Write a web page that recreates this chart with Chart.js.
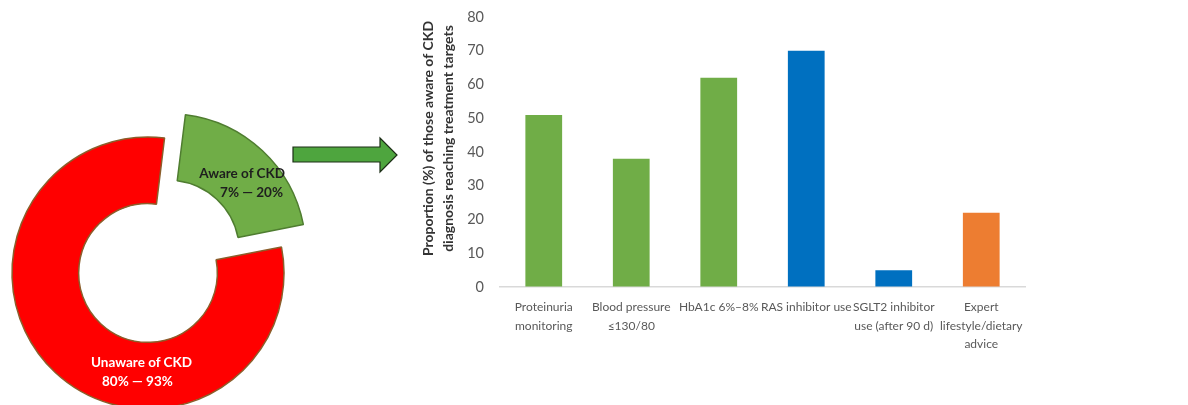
<!DOCTYPE html>
<html>
<head>
<meta charset="utf-8">
<script src="https://cdn.jsdelivr.net/npm/chart.js@4.4.1/dist/chart.umd.min.js"></script>
<style>
  html, body { margin: 0; padding: 0; background: #fff; }
  body { width: 1188px; height: 405px; overflow: hidden; position: relative; font-family: Lato, "Open Sans", sans-serif; }
  #ring { position: absolute; left: -42px; top: 83px; }
  #bars { position: absolute; left: 400px; top: 0; }
  #arrow { position: absolute; left: 0; top: 0; }
  .lbl { position: absolute; font-weight: bold; font-size: 13.5px; line-height: 19px; white-space: nowrap; }
  #aware { left: 180px; top: 164px; width: 105px; text-align: right; color: #1e1e1e; }
  #unaware { left: 91px; top: 353px; color: #fff; }
</style>
</head>
<body>
<canvas id="ring" width="380" height="380"></canvas>
<svg id="arrow" width="420" height="200">
  <polygon points="293,147 380,147 380,138 397,155 380,172 380,162 293,162"
           fill="#4ea53e" stroke="#1c2e16" stroke-width="1.2"/>
</svg>
<canvas id="bars" width="640" height="405"></canvas>
<div class="lbl" id="aware">Aware of CKD<br><span style="padding-right:2px">7% — 20%</span></div>
<div class="lbl" id="unaware">Unaware of CKD<br><span style="padding-left:11px">80% — 93%</span></div>
<script>
// awareness split (drawn shares)
const awareLabels = ["Aware of CKD", "Unaware of CKD"];
const awareShares = [20, 80];

// treatment targets among those aware
const targetLabels = [
  ["Proteinuria", "monitoring"],
  ["Blood pressure", "≤130/80"],
  ["HbA1c 6%–8%"],
  ["RAS inhibitor use"],
  ["SGLT2 inhibitor", "use (after 90 d)"],
  ["Expert", "lifestyle/dietary", "advice"]
];
const targetValues = [51, 38, 62, 70, 5, 22];
const yTicks = [0, 10, 20, 30, 40, 50, 60, 70, 80];

const barColors = ["#70ad47", "#70ad47", "#70ad47", "#0070c0", "#0070c0", "#ed7d31"];
const yTitle = ["Proportion (%) of those aware of CKD", "diagnosis reaching treatment targets"];

new Chart(document.getElementById("ring"), {
  type: 'doughnut',
  data: {
    labels: awareLabels,
    datasets: [{
      data: awareShares,
      backgroundColor: ["#70ad47", "#ff0000"],
      borderColor: ["#4f7d30", "#8b5e2b"],
      borderWidth: 1.5,
      offset: [120, 0]
    }]
  },
  options: {
    responsive: false,
    animation: false,
    events: [],
    rotation: 7,
    cutout: '51%',
    radius: 136,
    layout: { padding: 0 },
    plugins: { legend: { display: false }, tooltip: { enabled: false } }
  }
});

const axisTitle = {
  id: 'axisTitle',
  afterDraw(chart) {
    const { ctx, chartArea } = chart;
    const cy = chartArea.top + (chartArea.bottom - chartArea.top) * 0.45;
    ctx.save();
    ctx.fillStyle = '#333333';
    ctx.font = 'bold 14px Lato';
    ctx.textAlign = 'center';
    ctx.textBaseline = 'middle';
    yTitle.forEach((line, i) => {
      ctx.save();
      ctx.translate(chartArea.left - 72 + i * 20, cy);
      ctx.rotate(-Math.PI / 2);
      ctx.fillText(line, 0, 0);
      ctx.restore();
    });
    ctx.restore();
  }
};

new Chart(document.getElementById("bars"), {
  type: 'bar',
  data: {
    labels: targetLabels,
    datasets: [{
      data: targetValues,
      backgroundColor: barColors,
      borderColor: barColors,
      borderWidth: 0,
      categoryPercentage: 1,
      barPercentage: 0.42
    }]
  },
  options: {
    responsive: false,
    animation: false,
    events: [],
    layout: { padding: { left: 40, right: 15, top: 17, bottom: 0 } },
    plugins: { legend: { display: false }, tooltip: { enabled: false } },
    scales: {
      x: {
        grid: { display: false, drawTicks: false },
        border: { display: true, color: '#d9d9d9', width: 1.5 },
        ticks: {
          color: '#595959',
          font: { family: 'Lato', size: 12, lineHeight: 1.55 },
          padding: 11,
          maxRotation: 0,
          autoSkip: false
        },
        afterFit(scale) { scale.height = 118; }
      },
      y: {
        min: 0,
        max: 80,
        afterBuildTicks(scale) { scale.ticks = yTicks.map(v => ({ value: v })); },
        grid: { display: true, drawOnChartArea: false, drawTicks: true, tickLength: 12, color: 'rgba(0,0,0,0)' },
        border: { display: false },
        ticks: {
          color: '#595959',
          font: { family: 'Lato', size: 14.5 },
          padding: 4
        },
        afterFit(scale) { scale.width = 60; }
      }
    }
  },
  plugins: [axisTitle]
});
</script>
</body>
</html>
